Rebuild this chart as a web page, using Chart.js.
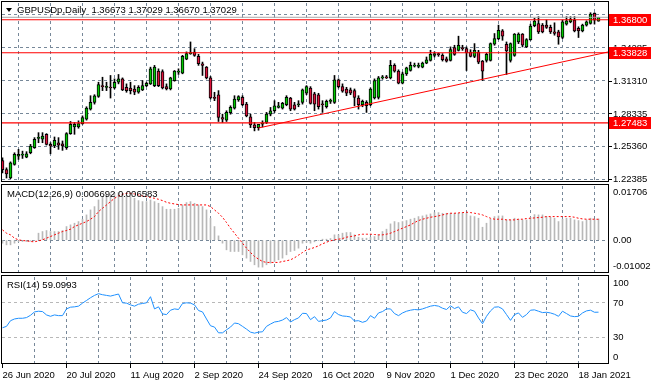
<!DOCTYPE html>
<html>
<head>
<meta charset="utf-8">
<script src="https://cdn.jsdelivr.net/npm/chart.js@4.4.1/dist/chart.umd.min.js"></script>
<style>
    html, body { margin: 0; padding: 0; background: #ffffff; }
    #wrap { position: relative; width: 653px; height: 386px; overflow: hidden; }
    canvas { position: absolute; left: 0; }
</style>
</head>
<body>
<div id="wrap">
    <canvas id="priceChart" width="653" height="183" style="top:0px"></canvas>
    <canvas id="macdChart" width="653" height="90" style="top:184px"></canvas>
    <canvas id="rsiChart" width="653" height="111" style="top:275px"></canvas>
</div>
<script>
// GBPUSD daily bars, 26 Jun 2020 .. 25 Jan 2021 (bar index 0..149)
const opens = [
    1.2408,1.2326,1.2250,1.2372,1.2448,1.2457,1.2439,1.2478,1.2524,1.2609,
    1.2600,1.2645,1.2554,1.2539,1.2569,1.2560,1.2524,1.2651,1.2712,1.2712,
    1.2742,1.2782,1.2873,1.2934,1.2988,1.3085,1.3070,1.3070,1.3064,1.3116,
    1.3146,1.3070,1.3064,1.3055,1.3025,1.3046,1.3085,1.3101,1.3085,1.3216,
    1.3213,1.3076,1.3055,1.3131,1.3207,1.3198,1.3325,1.3374,1.3389,1.3350,
    1.3283,1.3252,1.3155,1.2979,1.3003,1.2797,1.2773,1.2840,1.2882,1.2955,
    1.2979,1.2918,1.2803,1.2730,1.2706,1.2736,1.2752,1.2827,1.2858,1.2888,
    1.2882,1.2912,1.2973,1.2912,1.2912,1.2934,1.3016,1.3064,1.3010,1.3003,
    1.2918,1.2894,1.2943,1.2934,1.3137,1.3076,1.3055,1.3046,1.3040,1.2973,
    1.2912,1.2934,1.2912,1.2973,1.2979,1.3155,1.3161,1.3155,1.3268,1.3216,
    1.3107,1.3192,1.3222,1.3262,1.3259,1.3252,1.3289,1.3313,1.3359,1.3368,
    1.3359,1.3328,1.3313,1.3429,1.3404,1.3429,1.3419,1.3389,1.3350,1.3389,
    1.3307,1.3313,1.3313,1.3459,1.3510,1.3580,1.3459,1.3313,1.3359,1.3480,
    1.3550,1.3435,1.3501,1.3626,1.3647,1.3632,1.3632,1.3611,1.3571,1.3571,
    1.3520,1.3641,1.3662,1.3677,1.3602,1.3580,1.3632,1.3647,1.3738,1.36673
];
const highs = [
    1.2433,1.2342,1.2396,1.2478,1.2509,1.2493,1.2488,1.2554,1.2615,1.2660,
    1.2660,1.2651,1.2569,1.2621,1.2615,1.2585,1.2660,1.2761,1.2752,1.2767,
    1.2812,1.2894,1.2994,1.3003,1.3116,1.3161,1.3116,1.3177,1.3146,1.3186,
    1.3155,1.3101,1.3116,1.3085,1.3085,1.3131,1.3116,1.3252,1.3268,1.3237,
    1.3228,1.3101,1.3161,1.3222,1.3237,1.3359,1.3390,1.3480,1.3419,1.3368,
    1.3298,1.3258,1.3168,1.3025,1.3040,1.2827,1.2858,1.2903,1.2994,1.2994,
    1.2994,1.2934,1.2827,1.2752,1.2730,1.2767,1.2843,1.2888,1.2949,1.2934,
    1.2934,1.2994,1.2979,1.2934,1.2949,1.3055,1.3085,1.3076,1.3025,1.3016,
    1.2949,1.2955,1.2964,1.3177,1.3146,1.3101,1.3070,1.3064,1.3055,1.2994,
    1.2955,1.2949,1.3064,1.3146,1.3168,1.3177,1.3177,1.3313,1.3283,1.3228,
    1.3207,1.3252,1.3298,1.3289,1.3289,1.3298,1.3344,1.3405,1.3390,1.3380,
    1.3374,1.3344,1.3435,1.3450,1.3532,1.3450,1.3435,1.3410,1.3465,1.3404,
    1.3313,1.3380,1.3471,1.3556,1.3632,1.3592,1.3480,1.3471,1.3556,1.3562,
    1.3556,1.3510,1.3641,1.3693,1.3708,1.3647,1.3678,1.3632,1.3653,1.3586,
    1.3678,1.3708,1.3708,1.3708,1.3617,1.3641,1.3671,1.3744,1.3744,1.37029
];
const lows = [
    1.2296,1.2250,1.2244,1.2366,1.2418,1.2427,1.2433,1.2469,1.2518,1.2569,
    1.2569,1.2548,1.2469,1.2524,1.2509,1.2500,1.2509,1.2645,1.2645,1.2700,
    1.2736,1.2773,1.2864,1.2918,1.2979,1.3040,1.3040,1.2973,1.3055,1.3101,
    1.3040,1.3025,1.3010,1.3003,1.3016,1.3040,1.3076,1.3095,1.3076,1.3076,
    1.3055,1.3046,1.3046,1.3125,1.3186,1.3192,1.3319,1.3368,1.3350,1.3268,
    1.3177,1.3146,1.2964,1.2949,1.2761,1.2752,1.2761,1.2827,1.2873,1.2943,
    1.2903,1.2803,1.2706,1.2676,1.2682,1.2712,1.2742,1.2812,1.2843,1.2882,
    1.2873,1.2903,1.2858,1.2864,1.2894,1.2918,1.3003,1.2918,1.2858,1.2873,
    1.2843,1.2882,1.2924,1.2924,1.3064,1.3025,1.2994,1.3003,1.2903,1.2873,
    1.2894,1.2843,1.2903,1.2964,1.2964,1.3143,1.3149,1.3146,1.3207,1.3101,
    1.3101,1.3177,1.3216,1.3253,1.3246,1.3246,1.3283,1.3307,1.3344,1.3350,
    1.3307,1.3298,1.3307,1.3359,1.3398,1.3404,1.3222,1.3344,1.3338,1.3283,
    1.3131,1.3298,1.3307,1.3450,1.3501,1.3495,1.3186,1.3298,1.3350,1.3465,
    1.3435,1.3429,1.3495,1.3617,1.3556,1.3562,1.3602,1.3556,1.3541,1.3459,
    1.3510,1.3632,1.3653,1.3571,1.3520,1.3571,1.3623,1.3641,1.3641,1.36670
];
const closes = [
    1.2326,1.2287,1.2387,1.2463,1.2463,1.2460,1.2469,1.2539,1.2600,1.2615,
    1.2630,1.2554,1.2539,1.2591,1.2548,1.2539,1.2651,1.2736,1.2736,1.2742,
    1.2797,1.2882,1.2934,1.2994,1.3095,1.3076,1.3076,1.3064,1.3116,1.3146,
    1.3046,1.3040,1.3040,1.3025,1.3070,1.3085,1.3107,1.3237,1.3252,1.3085,
    1.3064,1.3055,1.3155,1.3216,1.3210,1.3350,1.3374,1.3380,1.3359,1.3283,
    1.3268,1.3155,1.2973,1.2970,1.2797,1.2782,1.2843,1.2888,1.2964,1.2985,
    1.2912,1.2812,1.2730,1.2706,1.2736,1.2742,1.2827,1.2858,1.2903,1.2903,
    1.2925,1.2979,1.2873,1.2873,1.2918,1.3046,1.3076,1.2924,1.2918,1.2894,
    1.2912,1.2943,1.2949,1.3137,1.3076,1.3034,1.3016,1.3016,1.2979,1.2912,
    1.2943,1.2903,1.3055,1.3131,1.3155,1.3161,1.3155,1.3268,1.3216,1.3107,
    1.3192,1.3246,1.3268,1.3265,1.3265,1.3289,1.3319,1.3368,1.3374,1.3365,
    1.3319,1.3307,1.3410,1.3368,1.3450,1.3419,1.3380,1.3350,1.3404,1.3298,
    1.3216,1.3368,1.3465,1.3510,1.3586,1.3532,1.3398,1.3465,1.3550,1.3550,
    1.3450,1.3501,1.3623,1.3668,1.3571,1.3571,1.3611,1.3571,1.3556,1.3526,
    1.3662,1.3671,1.3684,1.3580,1.3580,1.3632,1.3662,1.3732,1.3677,1.37029
];

// MACD(12,26,9): main (histogram) and signal (dotted)
const macdMain = [
    -0.00094,-0.00147,-0.00147,-0.00094,-0.00052,-0.00042,-0.00042,-0.00031,-0.00010,0.00220,
    0.00272,0.00304,0.00272,0.00272,0.00272,0.00304,0.00429,0.00482,0.00534,0.00586,
    0.00660,0.00796,0.00953,0.01057,0.01267,0.01372,0.01424,0.01455,0.01476,0.01497,
    0.01476,0.01424,0.01372,0.01319,0.01246,0.01215,0.01215,0.01267,0.01215,0.01162,
    0.01057,0.00974,0.00974,0.00974,0.01005,0.01110,0.01183,0.01215,0.01162,0.01110,
    0.01057,0.00953,0.00691,0.00429,0.00136,-0.00094,-0.00304,-0.00356,-0.00356,-0.00356,
    -0.00461,-0.00565,-0.00670,-0.00775,-0.00848,-0.00848,-0.00775,-0.00722,-0.00670,-0.00618,
    -0.00565,-0.00461,-0.00356,-0.00325,-0.00251,-0.00094,-0.00073,-0.00094,-0.00052,-0.00010,
    0.00031,0.00031,0.00052,0.00168,0.00168,0.00220,0.00241,0.00241,0.00168,0.00094,
    0.00063,0.00063,0.00094,0.00115,0.00168,0.00272,0.00346,0.00513,0.00586,0.00555,
    0.00586,0.00618,0.00660,0.00691,0.00743,0.00764,0.00796,0.00827,0.00869,0.00869,
    0.00848,0.00848,0.00848,0.00848,0.00848,0.00869,0.00848,0.00764,0.00743,0.00691,
    0.00408,0.00534,0.00660,0.00743,0.00764,0.00764,0.00639,0.00639,0.00691,0.00660,
    0.00639,0.00639,0.00722,0.00806,0.00796,0.00796,0.00743,0.00722,0.00691,0.00586,
    0.00660,0.00691,0.00691,0.00639,0.00618,0.00586,0.00639,0.00691,0.00660,0.006692
];
const macdSignal = [
    0.00325,0.00220,0.00168,0.00063,0.00010,-0.00010,-0.00021,-0.00042,-0.00052,-0.00021,
    0.00010,0.00063,0.00115,0.00168,0.00220,0.00272,0.00304,0.00346,0.00429,0.00482,
    0.00534,0.00586,0.00660,0.00743,0.00900,0.01005,0.01110,0.01215,0.01319,0.01393,
    0.01445,0.01476,0.01476,0.01455,0.01424,0.01393,0.01372,0.01340,0.01319,0.01288,
    0.01246,0.01194,0.01162,0.01141,0.01120,0.01110,0.01110,0.01110,0.01110,0.01110,
    0.01110,0.01110,0.01057,0.00953,0.00848,0.00722,0.00555,0.00377,0.00220,0.00063,
    -0.00094,-0.00251,-0.00387,-0.00513,-0.00597,-0.00670,-0.00701,-0.00701,-0.00701,-0.00701,
    -0.00670,-0.00649,-0.00618,-0.00555,-0.00471,-0.00387,-0.00304,-0.00272,-0.00230,-0.00178,
    -0.00115,-0.00063,-0.00021,0.00010,0.00031,0.00052,0.00094,0.00115,0.00136,0.00168,
    0.00188,0.00188,0.00188,0.00178,0.00168,0.00168,0.00188,0.00220,0.00272,0.00325,
    0.00377,0.00429,0.00482,0.00555,0.00618,0.00660,0.00691,0.00722,0.00743,0.00764,
    0.00796,0.00827,0.00848,0.00848,0.00859,0.00869,0.00880,0.00869,0.00848,0.00827,
    0.00796,0.00743,0.00691,0.00660,0.00660,0.00660,0.00639,0.00639,0.00639,0.00660,
    0.00660,0.00681,0.00691,0.00701,0.00712,0.00722,0.00743,0.00743,0.00743,0.00743,
    0.00743,0.00743,0.00743,0.00722,0.00691,0.00670,0.00660,0.00660,0.00660,0.006583
];

// RSI(14)
const rsiValues = [
    41.0,42.6,49.2,51.2,52.0,52.0,52.8,55.5,59.4,60.2,
    59.8,55.9,54.3,55.9,55.1,55.1,62.9,64.9,65.3,66.1,
    69.6,72.7,75.9,78.6,80.6,79.4,78.6,77.8,79.0,80.2,
    70.0,69.6,67.6,66.1,68.4,69.2,70.0,77.1,62.9,65.3,
    57.1,56.3,61.4,62.9,62.2,69.2,70.0,69.6,67.6,61.0,
    59.4,51.2,43.3,41.8,35.1,35.1,38.6,41.8,46.5,45.7,
    42.6,39.4,35.9,34.7,35.9,36.3,42.6,45.3,47.7,48.4,
    50.0,52.8,47.7,50.4,52.4,57.8,57.5,50.4,53.9,48.4,
    49.2,50.0,52.4,59.8,56.3,54.7,54.3,53.5,48.8,49.2,
    47.3,48.8,55.1,52.0,58.2,59.8,62.9,62.9,57.5,55.1,
    58.2,60.2,61.4,62.2,61.8,62.9,64.5,66.1,66.9,66.1,
    63.7,62.2,66.5,63.3,65.3,59.0,57.5,61.8,60.2,52.4,
    45.7,54.3,60.6,64.9,65.3,62.9,56.3,49.6,56.3,58.2,
    53.1,56.3,61.4,61.8,60.2,58.6,59.0,58.2,56.7,54.3,
    60.2,57.5,54.7,53.9,54.3,58.2,60.6,61.4,59.0,59.0993
];

// horizontal levels and trend line drawn on the price window
const levelLines = [1.36800, 1.33828, 1.27483];
const bidPrice = 1.37029;
const trendStart = { x: 64, y: 1.2702 };
const trendEnd = { x: 151.375, y: 1.3389 };

// axis ticks
const priceTicks = [1.22385, 1.25360, 1.28335, 1.31310, 1.34285, 1.37260];
const priceTickText = ['1.22385', '1.25360', '1.28335', '1.31310', '1.34285', ''];
const macdTicks = [0.01706, 0, -0.01002];
const macdTickText = ['0.01706', '0.00', '-0.01002'];
const rsiTicks = [100, 70, 30, 0];
const rsiLevels = [70, 30];
const gridIdx = [0, 8, 16, 24, 32, 40, 48, 56, 64, 72, 80, 88, 96, 104, 112, 120, 128, 136, 144];
const dateTickIdx = [0, 16, 32, 48, 64, 80, 96, 112, 128, 144];
const dateTickText = ['26 Jun 2020', '20 Jul 2020', '11 Aug 2020', '2 Sep 2020', '24 Sep 2020',
    '16 Oct 2020', '9 Nov 2020', '1 Dec 2020', '23 Dec 2020', '18 Jan 2021'];

const FONT = "9.5px 'Liberation Sans', Arial, sans-serif";
const GRID = '#778899';
const X_MIN = -0.125, X_MAX = 151.375;

Chart.defaults.animation = false;
Chart.defaults.events = [];
Chart.defaults.plugins.legend.display = false;
Chart.defaults.plugins.tooltip.enabled = false;

function xAxis(withLabels) {
    return {
        type: 'linear', min: X_MIN, max: X_MAX, offset: false,
        grid: {
            color: c => (c.tick && c.tick.value === 0) ? 'rgba(0,0,0,0)' : GRID,
            drawTicks: withLabels,
            tickLength: 5,
            tickColor: c => (c.tick && dateTickIdx.includes(c.tick.value)) ? '#000' : 'rgba(0,0,0,0)'
        },
        border: { display: false, dash: [3, 3] },
        ticks: {
            display: withLabels, autoSkip: false, maxRotation: 0, minRotation: 0,
            align: 'start', padding: 2, color: '#000', font: { family: "'Liberation Sans', Arial", size: 9.5 },
            callback: v => { const k = dateTickIdx.indexOf(v); return k >= 0 ? dateTickText[k] : ''; }
        },
        afterBuildTicks: s => { s.ticks = gridIdx.map(v => ({ value: v })); },
        afterFit: s => { s.height = withLabels ? 23 : 0; s.paddingLeft = 0; s.paddingRight = 0; }
    };
}

function yAxis(min, max, gridVals, gridColor) {
    return {
        type: 'linear', position: 'right', min: min, max: max,
        grid: { color: gridColor, drawTicks: false },
        border: { display: false, dash: [3, 3] },
        ticks: { display: false },
        afterBuildTicks: s => { s.ticks = gridVals.map(v => ({ value: v })); },
        afterFit: s => { s.width = 45; }
    };
}

// frame, window title, right-hand price labels and level tags
function panelDecor(cfg) {
    return {
        id: 'panelDecor',
        afterDraw(chart) {
            const ctx = chart.ctx, a = chart.chartArea, y = chart.scales.y;
            ctx.save();
            ctx.strokeStyle = '#000';
            ctx.lineWidth = 1;
            ctx.strokeRect(1.5, cfg.frameTop + 0.5, 607, cfg.frameBottom - cfg.frameTop);

            ctx.font = FONT;
            ctx.fillStyle = '#000';
            ctx.textAlign = 'left';
            ctx.textBaseline = 'middle';
            cfg.ticks.forEach((v, k) => {
                let py = y.getPixelForValue(v);
                if (cfg.inset) py = Math.min(Math.max(py, a.top + 6), a.bottom - 6);
                if (cfg.tickMarks) {
                    ctx.beginPath();
                    ctx.moveTo(608, Math.round(py) + 0.5);
                    ctx.lineTo(612, Math.round(py) + 0.5);
                    ctx.stroke();
                }
                if (cfg.tickText[k]) ctx.fillText(cfg.tickText[k], 613, py + 0.5);
            });

            (cfg.tags || []).forEach(v => {
                const py = Math.round(y.getPixelForValue(v));
                ctx.fillStyle = '#ff0000';
                ctx.fillRect(609, py - 6, 42, 12);
                ctx.fillStyle = '#ffffff';
                ctx.fillText(v.toFixed(5), 613, py + 0.5);
            });

            ctx.fillStyle = '#000';
            if (cfg.arrow) {
                ctx.beginPath();
                ctx.moveTo(6, 8); ctx.lineTo(12, 8); ctx.lineTo(9, 12);
                ctx.closePath();
                ctx.fill();
            }
            ctx.fillText(cfg.title, cfg.titleX, cfg.titleY);
            ctx.restore();
        }
    };
}

const idx = closes.map((c, i) => i);
const bodyColors = closes.map((c, i) => c >= opens[i] ? '#00c800' : '#dc143c');

// Price window
new Chart(document.getElementById('priceChart'), {
    type: 'bar',
    data: {
        datasets: [
            {
                label: 'body',
                data: idx.map(i => ({ x: i, y: [opens[i], closes[i]] })),
                backgroundColor: bodyColors,
                borderColor: '#000',
                borderWidth: 1,
                borderSkipped: false,
                barThickness: 3,
                minBarLength: 1,
                grouped: false,
                order: 2
            },
            {
                label: 'wick',
                data: idx.map(i => ({ x: i, y: [lows[i], highs[i]] })),
                backgroundColor: '#000',
                borderWidth: 0,
                barThickness: 1,
                grouped: false,
                order: 3
            },
            {
                type: 'line', label: 'bid',
                data: [{ x: X_MIN, y: bidPrice }, { x: X_MAX, y: bidPrice }],
                borderColor: '#a9a9a9', borderWidth: 1, pointRadius: 0, order: 1
            },
            ...levelLines.map(v => ({
                type: 'line', label: 'level',
                data: [{ x: X_MIN, y: v }, { x: X_MAX, y: v }],
                borderColor: '#ff0000', borderWidth: 1.1, pointRadius: 0, order: 0
            })),
            {
                type: 'line', label: 'trend',
                data: [trendStart, trendEnd],
                borderColor: '#ff0000', borderWidth: 1, pointRadius: 0, order: 0
            }
        ]
    },
    options: {
        responsive: false,
        layout: { padding: { left: 2, right: 0, top: 3, bottom: 2 } },
        scales: {
            x: xAxis(false),
            y: yAxis(1.2223, 1.3832, priceTicks, GRID)
        }
    },
    plugins: [panelDecor({
        frameTop: 1, frameBottom: 181,
        ticks: priceTicks, tickText: priceTickText, tickMarks: true, inset: false,
        tags: levelLines, arrow: true,
        title: 'GBPUSDp,Daily  1.36673 1.37029 1.36670 1.37029', titleX: 17, titleY: 10.5
    })]
});

// MACD window
new Chart(document.getElementById('macdChart'), {
    type: 'bar',
    data: {
        datasets: [
            {
                label: 'MACD',
                data: idx.map(i => ({ x: i, y: macdMain[i] })),
                backgroundColor: '#b8b8b8',
                barThickness: 1,
                grouped: false,
                order: 2
            },
            {
                type: 'line', label: 'Signal',
                data: idx.map(i => ({ x: i, y: macdSignal[i] })),
                borderColor: '#ff0000', borderWidth: 1, borderDash: [2, 2],
                pointRadius: 0, tension: 0, order: 1
            }
        ]
    },
    options: {
        responsive: false,
        layout: { padding: { left: 2, right: 0, top: 2, bottom: 2 } },
        scales: {
            x: xAxis(false),
            y: yAxis(-0.01002, 0.01706, [0], GRID)
        }
    },
    plugins: [panelDecor({
        frameTop: 0, frameBottom: 88,
        ticks: macdTicks, tickText: macdTickText, tickMarks: false, inset: true,
        title: 'MACD(12,26,9) 0.006692 0.006583', titleX: 7, titleY: 10.5
    })]
});

// RSI window
new Chart(document.getElementById('rsiChart'), {
    type: 'line',
    data: {
        datasets: [{
            label: 'RSI',
            data: idx.map(i => ({ x: i, y: rsiValues[i] })),
            borderColor: '#1e90ff', borderWidth: 1, pointRadius: 0, tension: 0
        }]
    },
    options: {
        responsive: false,
        layout: { padding: { left: 2, right: 0, top: 2, bottom: 0 } },
        scales: {
            x: xAxis(true),
            y: yAxis(0, 100, rsiLevels, '#b8b8b8')
        }
    },
    plugins: [panelDecor({
        frameTop: 0, frameBottom: 88,
        ticks: rsiTicks, tickText: rsiTicks.map(String), tickMarks: false, inset: true,
        title: 'RSI(14) 59.0993', titleX: 7, titleY: 10.5
    })]
});
</script>
</body>
</html>
